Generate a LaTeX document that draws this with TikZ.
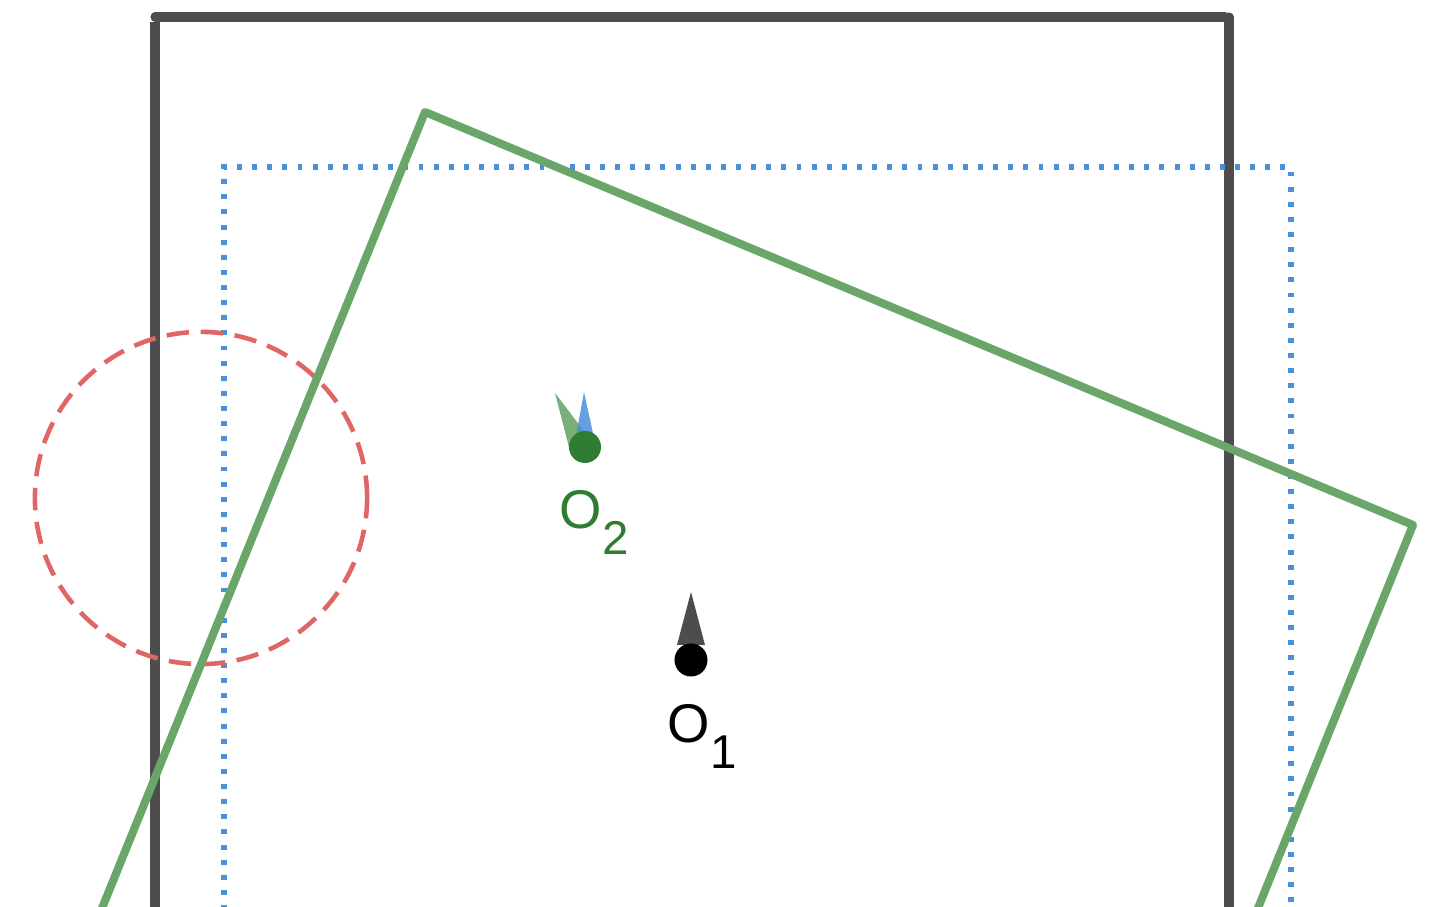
\documentclass[tikz,border=0pt]{standalone}
\usepackage{fontspec}
\setmainfont{Liberation Sans}
\usetikzlibrary{calc}
\definecolor{framegray}{HTML}{4D4D4D}
\definecolor{rectgreen}{HTML}{6AA66A}
\definecolor{dotgreen}{HTML}{2E7D32}
\definecolor{boxblue}{HTML}{4A8FD9}
\definecolor{circred}{HTML}{E06666}

\begin{document}
\begin{tikzpicture}[x=0.01cm, y=-0.01cm]
      \useasboundingbox (0,0) rectangle (1432,907);
      \clip (0,0) rectangle (1432,907);

      \draw[framegray, line width=2.6pt, line cap=round] (155,17) -- (1225,17);
      \draw[framegray, line width=2.6pt] (155,22) -- (155,910);
      \draw[framegray, line width=2.6pt, line cap=round] (1229,17) -- (1229,915);

      \draw[boxblue, line width=1.5pt, dash pattern=on 1.4pt off 2.9pt] (224,910) -- (224,167) -- (1291,167) -- (1291,910);

      \draw[circred, line width=1.3pt, dash pattern=on 6.4pt off 3.3pt] (201,498) circle (1.66cm);

      \draw[rectgreen, line width=2.3pt, line cap=round, line join=round] (81,960) -- (425,112) -- (1413,525) -- (1237,960);

      \fill[rectgreen, fill opacity=0.9] (555,393) -- (593,443) -- (571,455) -- cycle;
      \fill[boxblue, fill opacity=0.85] (584,392) -- (596,447) -- (574,447) -- cycle;
      \node[circle, fill=dotgreen, inner sep=0pt, minimum size=0.32cm] (o2) at (585,447) {};
      \fill[framegray] (691,592) -- (705,645) -- (677,645) -- cycle;
      \node[circle, fill=black, inner sep=0pt, minimum size=0.33cm] (o1) at (691,660) {};

      \node[text=dotgreen, anchor=base west, inner sep=0pt] (o2label) at (559,529) {\fontsize{15.5}{15}\selectfont O\raisebox{-0.25cm}{\fontsize{13.5}{13}\selectfont 2}};
      \node[text=black, anchor=base west, inner sep=0pt] (o1label) at (667,743) {\fontsize{15.5}{15}\selectfont O\raisebox{-0.25cm}{\fontsize{13.5}{13}\selectfont 1}};
\end{tikzpicture}
\end{document}
